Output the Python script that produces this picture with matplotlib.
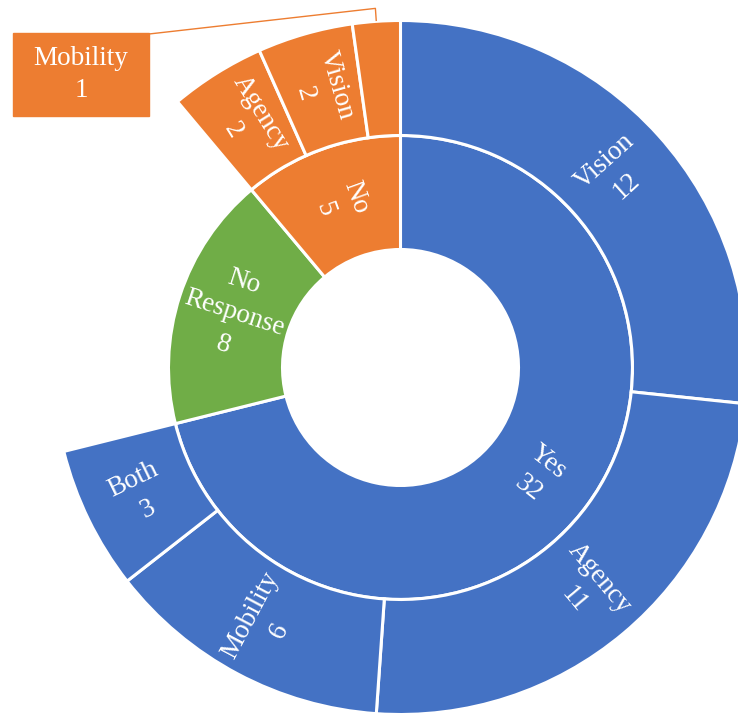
import matplotlib.pyplot as plt
import numpy as np
from matplotlib.patches import Rectangle

plt.rcParams['font.family'] = ['Liberation Serif', 'DejaVu Serif']

# inner ring (answer) - clockwise from 12 o'clock
inner_labels = ['Yes', 'No\nResponse', 'No']
inner_values = [32, 8, 5]
inner_colors = ['#4472C4', '#70AD47', '#ED7D31']

# outer ring (what for) - "No Response" has no children, so a blank slot
outer_labels = ['Vision', 'Agency', 'Mobility', 'Both', None, 'Agency', 'Vision', 'Mobility']
outer_values = [12, 11, 6, 3, 8, 2, 2, 1]
outer_colors = ['#4472C4', '#4472C4', '#4472C4', '#4472C4', 'none',
                '#ED7D31', '#ED7D31', '#ED7D31']
callout_idx = 7   # Mobility 1 is too small -> label in a box

W, H = 738, 714
cx, cy = 400.5, -367.5
r_hole, r_in, r_out = 118, 232, 347
fs = 19.5
lsp = 1.42

fig = plt.figure(figsize=(W / 100, H / 100), dpi=100)
ax = fig.add_axes([0, 0, 1, 1])

wp = dict(edgecolor='white', linewidth=2.2)
ax.pie(inner_values, radius=r_in, center=(cx, cy), colors=inner_colors,
       startangle=90, counterclock=False,
       wedgeprops=dict(width=r_in - r_hole, **wp))
outer, _ = ax.pie(outer_values, radius=r_out, center=(cx, cy), colors=outer_colors,
                  startangle=90, counterclock=False,
                  wedgeprops=dict(width=r_out - r_in, **wp))
for w, lab in zip(outer, outer_labels):
    if lab is None:
        w.set_visible(False)


def mid_angles(values):
    tot = sum(values)
    c = np.cumsum([0] + list(values))
    # compass midpoints -> math angles
    return [90 - 360 * (c[i] + c[i + 1]) / 2 / tot for i in range(len(values))]


def put_label(text, ang, r):
    a = np.radians(ang)
    rot = ((ang + 90) % 180) - 90
    ax.text(cx + r * np.cos(a), cy + r * np.sin(a), text, color='white',
            fontsize=fs, ha='center', va='center', rotation=rot,
            rotation_mode='anchor', linespacing=lsp)


for lab, v, ang in zip(inner_labels, inner_values, mid_angles(inner_values)):
    put_label(f'{lab}\n{v}', ang, (r_hole + r_in) / 2)

out_angles = mid_angles(outer_values)
for i, (lab, v, ang) in enumerate(zip(outer_labels, outer_values, out_angles)):
    if lab is None or i == callout_idx:
        continue
    put_label(f'{lab}\n{v}', ang, (r_in + r_out) / 2)

# callout for the tiny slice
bx0, bx1, by0, by1 = 13, 149, -116, -33
ax.add_patch(Rectangle((bx0, by0), bx1 - bx0, by1 - by0, color='#ED7D31', zorder=3))
ax.text((bx0 + bx1) / 2, (by0 + by1) / 2,
        f'{outer_labels[callout_idx]}\n{outer_values[callout_idx]}',
        color='white', fontsize=fs, ha='center', va='center', zorder=4,
        linespacing=lsp)
a = np.radians(out_angles[callout_idx])
p0 = (cx + (r_out + 1) * np.cos(a), cy + (r_out + 1) * np.sin(a))
p1 = (cx + (r_out + 13) * np.cos(a), cy + (r_out + 13) * np.sin(a))
ax.plot([p0[0], p1[0], bx1], [p0[1], p1[1], by1 - 1], color='#ED7D31', lw=1)

ax.set_xlim(0, W)
ax.set_ylim(-H, 0)
ax.set_aspect('equal')
ax.axis('off')

fig.savefig('out.png', dpi=100)
